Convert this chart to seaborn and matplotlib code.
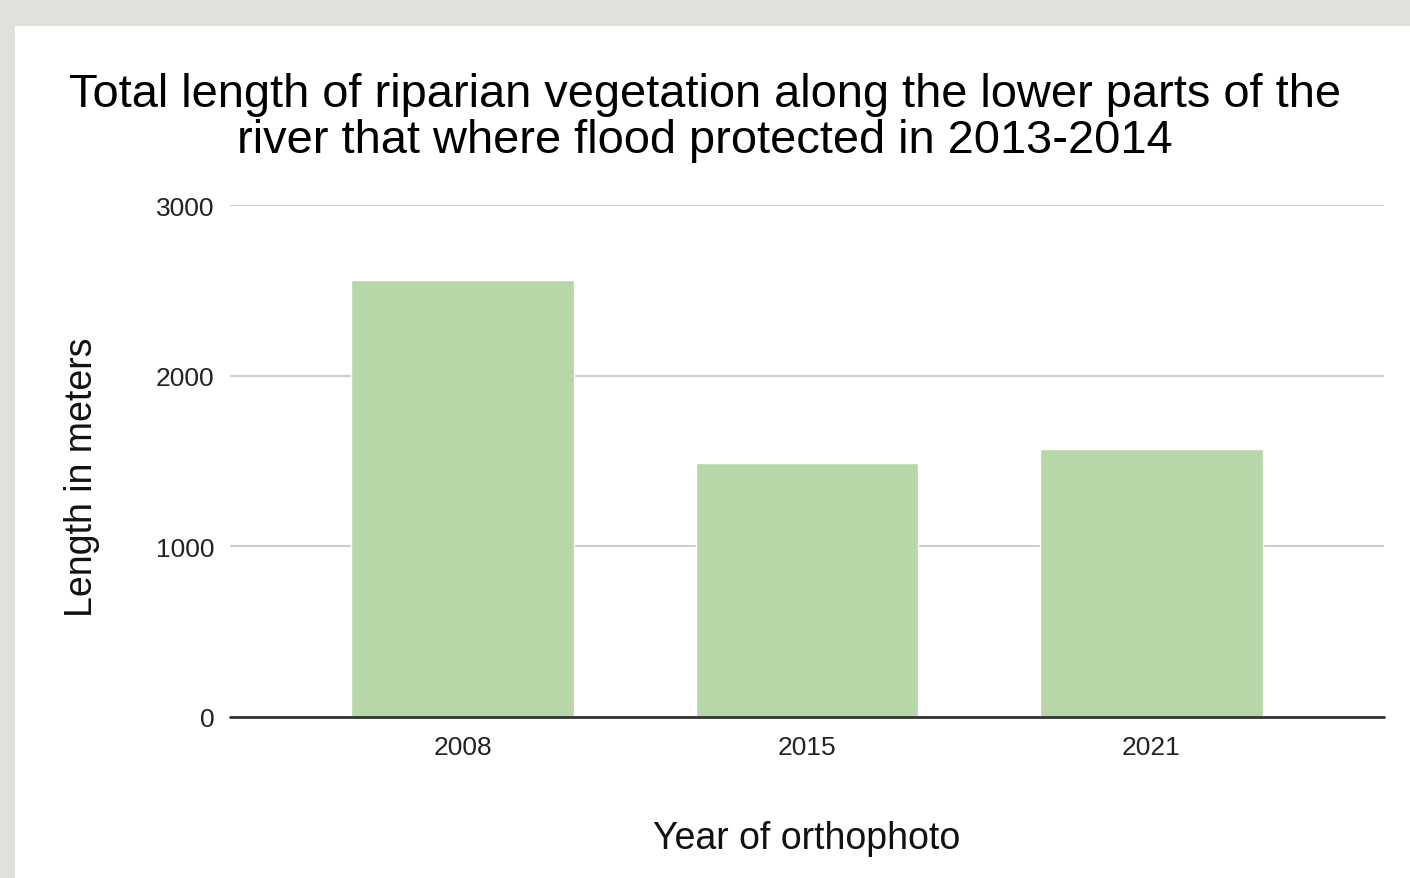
import pandas as pd
import seaborn as sns
import matplotlib.pyplot as plt
from matplotlib.patches import Rectangle

years = ["2008", "2015", "2021"]
lengths = [2560, 1488, 1570]

df = pd.DataFrame({"year": years, "length": lengths})

sns.set_style("white")
plt.rcParams['font.family'] = ['Liberation Sans', 'DejaVu Sans']

fig = plt.figure(figsize=(14.1, 8.79), dpi=100)
fig.patch.set_facecolor("#e0e1dc")
# white card behind the chart
fig.patches.append(Rectangle((15 / 1410, 0), 1, 1 - 27 / 879, transform=fig.transFigure,
                             facecolor="white", edgecolor="none", zorder=-1))

ax = fig.add_axes([230 / 1410, 1 - 718 / 879, (1384 - 230) / 1410, (718 - 206) / 879])
ax.set_facecolor("none")
ax.set_zorder(2)

sns.barplot(data=df, x="year", y="length", color="#b7d7a8", saturation=1, width=0.648, ax=ax, zorder=3)

ax.set_xlim(-0.677, 2.677)
ax.set_ylim(0, 3000)
ax.set_yticks([0, 1000, 2000, 3000])
ax.yaxis.grid(True, color="#cccccc", linewidth=1.5, zorder=0)
ax.set_axisbelow(True)
ax.axhline(0, color="#333333", linewidth=2, zorder=4, clip_on=False)
for s in ax.spines.values():
    s.set_visible(False)
ax.tick_params(axis="both", length=0, labelsize=19, colors="#222222")
ax.tick_params(axis="y", pad=11)
ax.tick_params(axis="x", pad=13)

ax.set_xlabel("Year of orthophoto", fontsize=27, color="#111111")
ax.set_ylabel("Length in meters", fontsize=27, color="#111111")
ax.xaxis.set_label_coords(0.5, -0.201)
ax.yaxis.set_label_coords(-0.1127, 0.471)

fig.text(0.5, 1 - 118 / 879,
         "Total length of riparian vegetation along the lower parts of the\nriver that where flood protected in 2013-2014",
         ha="center", va="center", fontsize=33.8, linespacing=1.03, color="black")

plt.savefig("out.png", dpi=100, facecolor=fig.get_facecolor())
